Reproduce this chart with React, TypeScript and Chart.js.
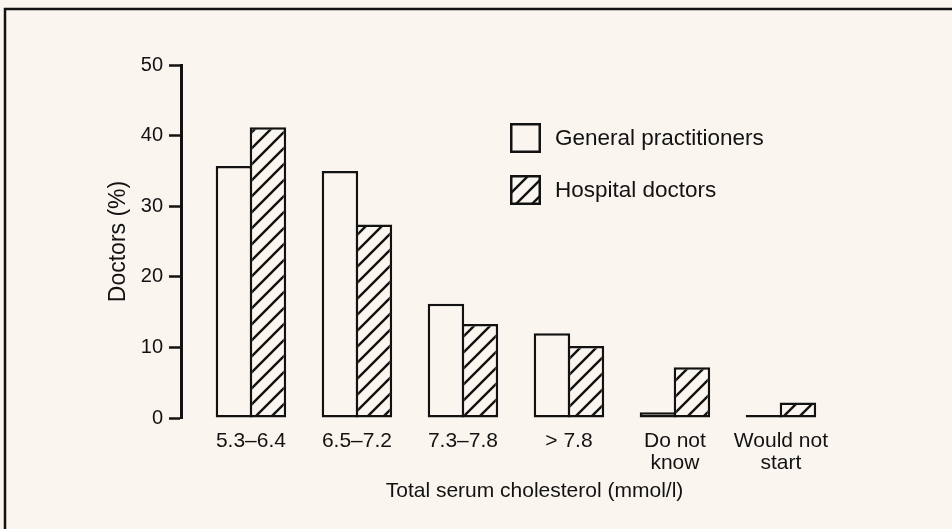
import { useEffect, useRef } from 'react';
import { Chart, registerables } from 'chart.js';

Chart.register(...registerables);

// ---- data ----
const CATEGORIES: (string | string[])[] = [
  '5.3–6.4',
  '6.5–7.2',
  '7.3–7.8',
  '> 7.8',
  ['Do not', 'know'],
  ['Would not', 'start'],
];
const GP_VALUES = [35.7, 35.0, 16.2, 12.0, 0.8, 0];
const HOSPITAL_VALUES = [41.2, 27.4, 13.3, 10.2, 7.2, 2.2];
const SERIES_LABELS = ['General practitioners', 'Hospital doctors'];
const Y_TICKS = [0, 10, 20, 30, 40, 50];
const X_TITLE = 'Total serum cholesterol (mmol/l)';
const Y_TITLE = 'Doctors (%)';
// category-axis extent in category units
const X_RANGE = [-0.66, 6.01];

// ---- styles ----
const BG = '#faf6ef';
const INK = '#121212';
const FONT = "'Liberation Sans', Arial, Helvetica, sans-serif";

function makeHatch(): CanvasPattern | string {
  const s = 16;
  const tile = document.createElement('canvas');
  tile.width = s;
  tile.height = s;
  const c = tile.getContext('2d');
  if (!c) return BG;
  c.fillStyle = BG;
  c.fillRect(0, 0, s, s);
  c.strokeStyle = INK;
  c.lineWidth = 2.4;
  c.lineCap = 'square';
  c.beginPath();
  c.moveTo(0, s);
  c.lineTo(s, 0);
  c.moveTo(-2, 2);
  c.lineTo(2, -2);
  c.moveTo(s - 2, s + 2);
  c.lineTo(s + 2, s - 2);
  c.stroke();
  const p = c.createPattern(tile, 'repeat');
  return p || BG;
}

const paperPlugin = {
  id: 'paper',
  beforeDraw(chart: any) {
    const { ctx, width, height } = chart;
    ctx.save();
    ctx.fillStyle = BG;
    ctx.fillRect(0, 0, width, height);
    ctx.strokeStyle = INK;
    ctx.lineWidth = 2.5;
    ctx.beginPath();
    ctx.moveTo(width + 5, 9);
    ctx.lineTo(5, 9);
    ctx.lineTo(5, height + 5);
    ctx.stroke();
    ctx.restore();
  },
};

const insetLegend = {
  id: 'insetLegend',
  afterDatasetsDraw(chart: any, _args: any, opts: any) {
    const { ctx } = chart;
    const { x, y, rowGap, boxW, boxH, textGap, font } = opts;
    chart.data.datasets.forEach((ds: any, i: number) => {
      const cy = y + i * rowGap;
      ctx.save();
      ctx.fillStyle = ds.backgroundColor;
      ctx.fillRect(x, cy - boxH / 2, boxW, boxH);
      ctx.strokeStyle = INK;
      ctx.lineWidth = 2.5;
      ctx.strokeRect(x, cy - boxH / 2, boxW, boxH);
      ctx.fillStyle = INK;
      ctx.font = font;
      ctx.textBaseline = 'middle';
      ctx.textAlign = 'left';
      ctx.fillText(ds.label, x + boxW + textGap, cy + 1);
      ctx.restore();
    });
  },
};

export default function App() {
  const ref = useRef<HTMLCanvasElement | null>(null);

  useEffect(() => {
    if (!ref.current) return;
    const hatch = makeHatch();
    const chart = new Chart(ref.current, {
      type: 'bar',
      data: {
        labels: CATEGORIES,
        datasets: [
          {
            label: SERIES_LABELS[0],
            data: GP_VALUES,
            backgroundColor: BG,
            borderColor: INK,
            borderWidth: 2.5,
            borderSkipped: false,
            minBarLength: 3,
          },
          {
            label: SERIES_LABELS[1],
            data: HOSPITAL_VALUES,
            backgroundColor: hatch as any,
            borderColor: INK,
            borderWidth: 2.5,
            borderSkipped: false,
          },
        ],
      },
      options: {
        responsive: true,
        maintainAspectRatio: false,
        animation: false,
        events: [],
        layout: { padding: { top: 65, right: 64, left: 0, bottom: 0 } },
        datasets: {
          bar: { categoryPercentage: 0.6415, barPercentage: 1.0735 },
        },
        plugins: {
          legend: { display: false },
          tooltip: { enabled: false },
          insetLegend: {
            x: 511.25,
            y: 138,
            rowGap: 52,
            boxW: 28.5,
            boxH: 27.5,
            textGap: 15.25,
            font: `22.5px ${FONT}`,
          },
        } as any,
        scales: {
          x: {
            type: 'category',
            offset: false,
            grid: { display: false, drawTicks: false },
            border: { display: false },
            afterBuildTicks: (axis: any) => {
              axis._startValue = X_RANGE[0];
              axis._valueRange = X_RANGE[1] - X_RANGE[0];
            },
            afterFit: (axis: any) => {
              axis.height = 111;
            },
            ticks: {
              color: INK,
              font: { family: FONT, size: 21, lineHeight: 1.05 },
              padding: 12,
              autoSkip: false,
              maxRotation: 0,
              minRotation: 0,
            },
            title: {
              display: true,
              text: X_TITLE,
              color: INK,
              font: { family: FONT, size: 21, lineHeight: 1.2 },
              padding: { top: 0, bottom: 25 },
            },
          },
          y: {
            min: 0,
            max: 50,
            afterBuildTicks: (axis: any) => {
              axis.ticks = Y_TICKS.map((v) => ({ value: v }));
            },
            afterFit: (axis: any) => {
              axis.width = 181;
            },
            grid: {
              drawOnChartArea: false,
              drawTicks: true,
              tickLength: 12,
              tickWidth: 2.5,
              tickColor: INK,
            },
            border: { display: true, color: INK, width: 3 },
            ticks: {
              color: INK,
              font: { family: FONT, size: 20 },
              padding: 6,
            },
            title: {
              display: true,
              text: Y_TITLE,
              color: INK,
              font: { family: FONT, size: 23, lineHeight: 1.2 },
              padding: { top: 105, bottom: 0 },
            },
          },
        },
      } as any,
      plugins: [paperPlugin, insetLegend],
    });
    return () => chart.destroy();
  }, []);

  return (
    <div style={{ position: 'fixed', left: 0, top: 0, width: 952, height: 529 }}>
      <canvas ref={ref} />
    </div>
  );
}
